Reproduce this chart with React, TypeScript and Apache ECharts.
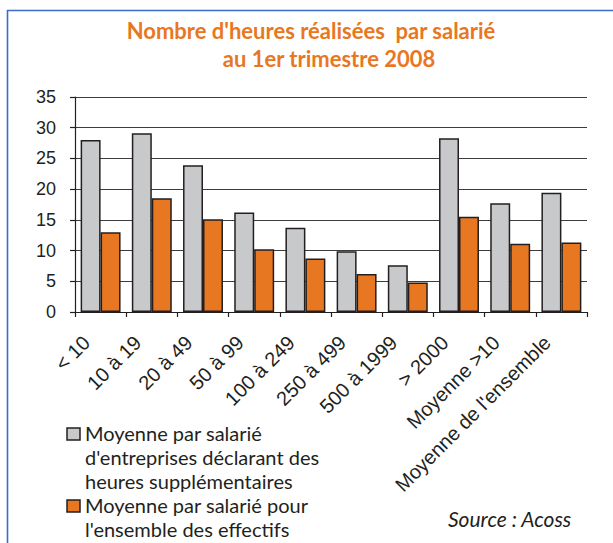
import React, { useEffect, useRef } from "react";
import * as echarts from "echarts";

const categories = [
  "< 10",
  "10 à 19",
  "20 à 49",
  "50 à 99",
  "100 à 249",
  "250 à 499",
  "500 à 1999",
  "> 2000",
  "Moyenne >10",
  "Moyenne de l'ensemble",
];
const seriesDeclarants = [28.0, 29.1, 23.9, 16.2, 13.7, 9.9, 7.6, 28.3, 17.7, 19.4];
const seriesEnsemble = [13.0, 18.5, 15.1, 10.2, 8.7, 6.2, 4.8, 15.5, 11.1, 11.3];
const yTicks = { min: 0, max: 35, interval: 5 };
const titleLine1 = "Nombre d'heures réalisées  par salarié";
const titleLine2 = "au 1er trimestre 2008";
const legendNames = [
  "Moyenne par salarié\nd'entreprises déclarant des\nheures supplémentaires",
  "Moyenne par salarié pour\nl'ensemble des effectifs",
];
const sourceText = "Source : Acoss";

const GRAY = "#c8c9cb";
const ORANGE = "#e87722";
const BORDER = "#231f20";
const SANS = "Lato, 'Open Sans', sans-serif";
const ARIAL = "'Liberation Sans', Arial, sans-serif";

export default function App() {
  const ref = useRef<HTMLDivElement>(null);
  useEffect(() => {
    if (!ref.current) return;
    const chart = echarts.init(ref.current, undefined, { renderer: "svg" });
    const titleStyle = {
      fontFamily: SANS,
      fontSize: 22,
      fontWeight: "bold" as const,
      color: ORANGE,
      lineHeight: 28,
    };
    chart.setOption({
      animation: false,
      backgroundColor: "#ffffff",
      grid: { left: 75, right: 26, top: 97, bottom: 231, containLabel: false },
      xAxis: {
        type: "category",
        data: categories,
        axisLine: { show: true, lineStyle: { color: BORDER, width: 1.2 } },
        axisTick: { show: true, length: 5, lineStyle: { color: BORDER, width: 1.2 } },
        axisLabel: {
          rotate: 45,
          interval: 0,
          margin: 13,
          padding: [0, 20, 0, 0],
          fontFamily: ARIAL,
          fontSize: 20,
          color: BORDER,
        },
      },
      yAxis: {
        type: "value",
        min: yTicks.min,
        max: yTicks.max,
        interval: yTicks.interval,
        axisLine: { show: true, lineStyle: { color: BORDER, width: 1.2 } },
        axisTick: { show: true, length: 5, lineStyle: { color: BORDER, width: 1.2 } },
        axisLabel: { fontFamily: ARIAL, fontSize: 18, color: BORDER, margin: 19 },
        splitLine: { show: true, lineStyle: { color: "#3c3c3c", width: 1.2 } },
      },
      title: [
        {
          text: titleLine1,
          left: 311,
          top: 16,
          padding: 0,
          textAlign: "center",
          textStyle: titleStyle,
        },
        {
          text: titleLine2,
          left: 329,
          top: 44,
          padding: 0,
          textAlign: "center",
          textStyle: titleStyle,
        },
      ],
      series: [
        {
          name: legendNames[0],
          type: "bar",
          data: seriesDeclarants,
          barGap: "0%",
          barCategoryGap: "22%",
          itemStyle: { color: GRAY, borderColor: BORDER, borderWidth: 1.5 },
        },
        {
          name: legendNames[1],
          type: "bar",
          data: seriesEnsemble,
          barGap: "0%",
          barCategoryGap: "22%",
          itemStyle: { color: ORANGE, borderColor: BORDER, borderWidth: 1.5 },
        },
      ],
      graphic: [
        {
          type: "rect",
          shape: { x: 7.5, y: 10.5, width: 640, height: 600 },
          style: { fill: "none", stroke: "#3b6bcc", lineWidth: 1.6 },
          silent: true,
        },
        {
          type: "rect",
          shape: { x: 67, y: 428, width: 13, height: 12 },
          style: { fill: GRAY, stroke: BORDER, lineWidth: 1.5 },
        },
        {
          type: "text",
          x: 85,
          y: 421,
          style: {
            text: legendNames[0],
            fontFamily: SANS,
            fontSize: 20,
            lineHeight: 24,
            fill: BORDER,
            verticalAlign: "top",
          },
        },
        {
          type: "rect",
          shape: { x: 67, y: 500, width: 13, height: 12 },
          style: { fill: ORANGE, stroke: BORDER, lineWidth: 1.5 },
        },
        {
          type: "text",
          x: 85,
          y: 493,
          style: {
            text: legendNames[1],
            fontFamily: SANS,
            fontSize: 20,
            lineHeight: 24,
            fill: BORDER,
            verticalAlign: "top",
          },
        },
        {
          type: "text",
          x: 448,
          y: 518,
          style: {
            text: sourceText,
            fontFamily: SANS,
            fontSize: 21,
            fontStyle: "italic",
            fill: BORDER,
            verticalAlign: "middle",
          },
        },
      ],
    });
    return () => chart.dispose();
  }, []);
  return (
    <div
      ref={ref}
      style={{ position: "fixed", left: 0, top: 0, width: 613, height: 543 }}
    />
  );
}
